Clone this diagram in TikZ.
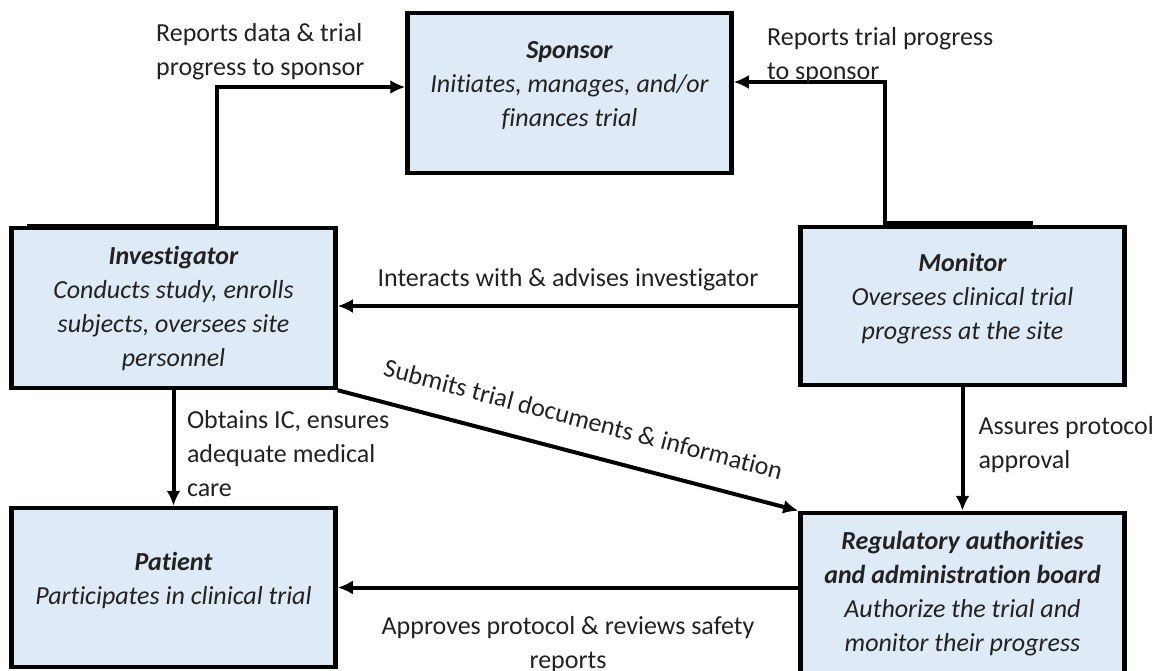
\documentclass[tikz,border=0pt]{standalone}
\usepackage{fontspec}
\setmainfont{Carlito}[Ligatures={NoCommon}]
\usepackage{xcolor}
\usepackage{tikz}
\usetikzlibrary{arrows.meta,positioning,calc}

\definecolor{boxblue}{HTML}{DEEAF6}
\definecolor{inkgrey}{HTML}{222222}

\begin{document}
\begin{tikzpicture}[x=1pt,y=-1pt,>={Latex[length=15pt,width=14pt]},
    role/.style={draw=black,line width=4.5pt,fill=boxblue,
                 minimum width=324pt,minimum height=160pt,inner sep=0pt},
    roletext/.style={align=center,text=inkgrey,inner sep=0pt,
                     font=\fontsize{26}{34}\selectfont\itshape},
    flow/.style={->,line width=4pt},
    lbl/.style={text=inkgrey,inner sep=0pt,
                font=\fontsize{26}{34}\selectfont}]
  \path[use as bounding box,fill=white] (0,0) rectangle (1160,671);

  % the five parties
  \node[role] (sponsor) at (569.5,93) {};
  \node[roletext] (sponsortxt) at ([yshift=7pt]sponsor.center)
    {\textbf{Sponsor}\\Initiates, manages, and/or\\finances trial};
  \node[role] (investigator) at (173.5,308) {};
  \node[roletext] (investigatortxt) at (investigator.center)
    {\textbf{Investigator}\\Conducts study, enrolls\\subjects, oversees site\\personnel};
  \node[role,minimum height=158pt] (monitor) at (962.5,306) {};
  \node[roletext] (monitortxt) at ([yshift=7pt]monitor.center)
    {\textbf{Monitor}\\Oversees clinical trial\\progress at the site};
  \node[role,minimum height=159pt] (patient) at (173.5,587.5) {};
  \node[roletext] (patienttxt) at ([yshift=7pt]patient.center)
    {\textbf{Patient}\\Participates in clinical trial};
  \node[role,minimum height=170pt] (regulatory) at (962.5,598) {};
  \node[roletext] (regulatorytxt) at ([yshift=4pt]regulatory.center)
    {\textbf{Regulatory authorities}\\\textbf{and administration board}\\Authorize the trial and\\monitor their progress};

  % reporting lines to the sponsor
  \draw[flow] ([xshift=18pt]investigator.north west)
    -- ([xshift=43.5pt]investigator.north) |- ([yshift=6pt]sponsor.west);
  \node[lbl,align=left,anchor=south west] (reportsdata) at (156,80)
    {Reports data \& trial\\progress to sponsor};
  \draw[flow] ([xshift=70.5pt,yshift=1.5pt]monitor.north)
    -- ([xshift=-77.5pt,yshift=1.5pt]monitor.north) |- ([yshift=11pt]sponsor.east);
  \node[lbl,align=left,anchor=south west] (reportsprogress) at (767,84)
    {Reports trial progress\\to sponsor};

  % site level
  \draw[flow] (monitor.west) -- node[lbl,above=13pt]
    {Interacts with \& advises investigator} (monitor.west -| investigator.east);
  \draw[flow] (investigator.south east) -- node[lbl,sloped,above=23pt,pos=0.515]
    {Submits trial documents \& information} (regulatory.north west);
  \draw[flow] (investigator.south) -- node[lbl,right=11.5pt,yshift=-6pt,align=left]
    {Obtains IC, ensures\\adequate medical\\care} (patient.north);
  \draw[flow] (monitor.south) -- node[lbl,right=14pt,yshift=4pt,align=left]
    {Assures protocol\\approval} (regulatory.north);
  \draw[flow] (patient.east -| regulatory.west) -- node[lbl,below=27pt,align=center]
    {Approves protocol \& reviews safety\\reports} (patient.east);
\end{tikzpicture}
\end{document}
